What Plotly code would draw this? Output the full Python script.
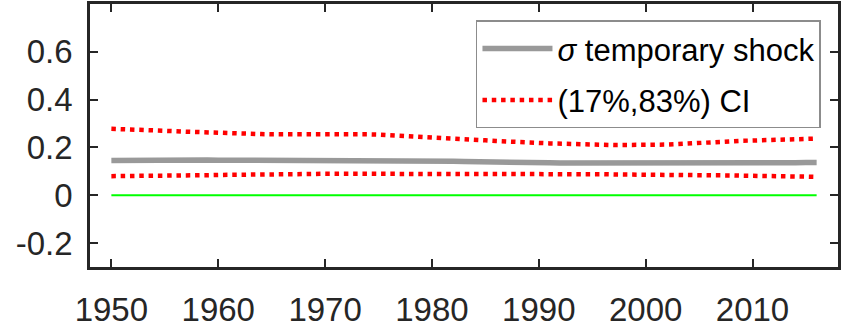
import plotly.graph_objects as go

years = list(range(1950, 2017))

sigma_temp = [
    .145, .146, .146, .147, .147, .147, .147, .148, .148, .148,
    .147, .147, .147, .147, .147, .147, .146, .146, .146, .146,
    .146, .146, .146, .146, .145, .145, .145, .144, .144, .143,
    .143, .142, .142, .141, .141, .140, .139, .139, .138, .137,
    .136, .136, .135, .135, .134, .133, .133, .132, .132, .131,
    .131, .131, .131, .132, .132, .132, .133, .133, .134, .134,
    .135, .135, .136, .136, .136, .137, .137,
]

ci_upper = [
    .278, .277, .275, .273, .271, .270, .268, .266, .264, .263,
    .262, .260, .259, .257, .256, .255, .254, .254, .255, .255,
    .255, .256, .256, .256, .255, .254, .252, .250, .247, .245,
    .243, .240, .237, .235, .232, .230, .227, .224, .222, .220,
    .219, .217, .215, .214, .213, .212, .211, .210, .210, .209,
    .210, .211, .212, .214, .217, .220, .222, .224, .226, .228,
    .229, .230, .232, .233, .234, .236, .237,
]

ci_lower = [
    .080, .080, .081, .081, .082, .082, .083, .083, .084, .084,
    .085, .085, .086, .086, .087, .087, .088, .088, .089, .089,
    .090, .090, .091, .091, .091, .092, .092, .092, .092, .092,
    .092, .092, .092, .092, .091, .091, .091, .091, .090, .090,
    .090, .089, .089, .089, .088, .088, .088, .087, .087, .087,
    .086, .086, .085, .085, .084, .084, .083, .083, .083, .082,
    .082, .081, .080, .079, .079, .078, .077,
]

zero_line = [0.0] * len(years)

x_ticks = [1950, 1960, 1970, 1980, 1990, 2000, 2010]
y_ticks = [-0.2, 0, 0.2, 0.4, 0.6]
y_tick_labels = ["-0.2", "0", "0.2", "0.4", "0.6"]

FONT = "Liberation Sans, Arial, sans-serif"
AX = "#262626"

fig = go.Figure()
fig.add_trace(go.Scatter(x=years, y=zero_line, mode="lines",
                         line=dict(color="#00ff00", width=2), showlegend=False, hoverinfo="skip"))
fig.add_trace(go.Scatter(x=years, y=sigma_temp, mode="lines", name="<i>σ</i> temporary shock",
                         legendgroup="g1",
                         line=dict(color="#999999", width=5.5)))
fig.add_trace(go.Scatter(x=years, y=ci_upper, mode="lines", name="(17%,83%) CI",
                         legendgroup="g2",
                         line=dict(color="#ff0000", width=4.5, dash="4.5px,4.8px")))
fig.add_trace(go.Scatter(x=years, y=ci_lower, mode="lines", name="(17%,83%) CI",
                         legendgroup="g2",
                         line=dict(color="#ff0000", width=4.5, dash="4.5px,4.8px"), showlegend=False))

fig.update_layout(
    width=846, height=331,
    margin=dict(l=90, r=8, t=4, b=64, autoexpand=False),
    paper_bgcolor="white", plot_bgcolor="white",
    font=dict(family=FONT, size=33, color=AX),
    showlegend=True,
    legend=dict(x=0.516, y=0.9375, xanchor="left", yanchor="top",
                bgcolor="white", bordercolor="#8c8c8c", borderwidth=1.5,
                font=dict(family=FONT, size=31, color="#000000"),
                itemwidth=70, traceorder="grouped", tracegroupgap=8),
)
fig.update_xaxes(range=[1948, 2018], tickvals=x_ticks, ticks="inside", ticklen=8,
                 tickwidth=2, tickcolor=AX, showline=True, linewidth=2.5, linecolor=AX,
                 mirror="ticks", showgrid=False, zeroline=False, ticklabelstandoff=12)
fig.update_yaxes(range=[-0.3, 0.8], tickvals=y_ticks, ticktext=y_tick_labels, ticks="inside",
                 ticklen=8, tickwidth=2, tickcolor=AX, showline=True, linewidth=2.5, linecolor=AX,
                 mirror="ticks", showgrid=False, zeroline=False, ticklabelstandoff=8)

fig.write_html("out.html", config={"displayModeBar": False},
               post_script="document.body.style.margin='0';document.body.style.overflow='hidden';")
